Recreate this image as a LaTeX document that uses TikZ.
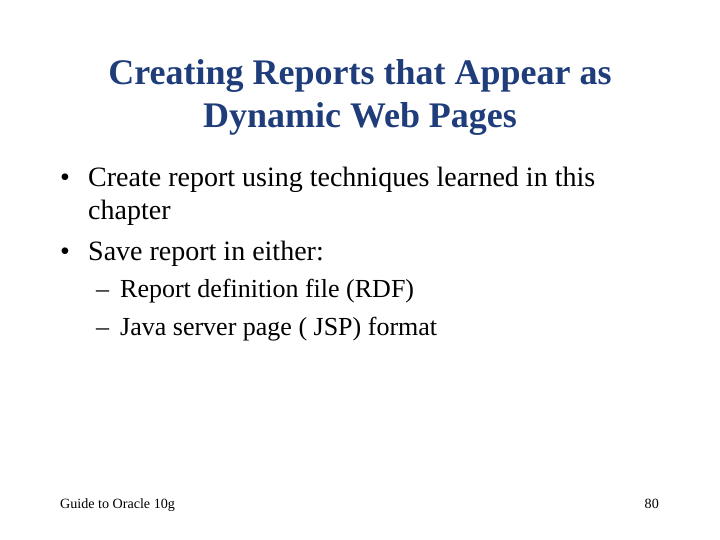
\documentclass[tikz,border=0pt]{standalone}
\usepackage{fontspec}
\setmainfont{Liberation Serif}
\definecolor{titleblue}{HTML}{1F3D7A}
\begin{document}
\begin{tikzpicture}[x=1pt,y=-1pt,
  ttl/.style={anchor=base,inner sep=0pt,text=titleblue,font=\fontsize{36}{40}\selectfont\bfseries},
  txt/.style={anchor=base west,inner sep=0pt,font=\fontsize{28}{32}\selectfont},
  sub/.style={anchor=base west,inner sep=0pt,font=\fontsize{26}{30}\selectfont},
  foot/.style={inner sep=0pt,font=\fontsize{14.1}{16}\selectfont}]
\useasboundingbox (0,0) rectangle (720,540);
\node[ttl] (title1) at (360,85) {Creating Reports that Appear as};
\node[ttl] (title2) at (360,128) {Dynamic Web Pages};
\node[txt] (b1) at (60,187) {•};
\node[txt] (t1) at (88,187) {Create report using techniques learned in this};
\node[txt] (t1b) at (88,219) {chapter};
\node[txt] (b2) at (60,260) {•};
\node[txt] (t2) at (88,260) {Save report in either:};
\node[sub] (d1) at (96,297) {–};
\node[sub] (s1) at (120,297) {Report definition file (RDF)};
\node[sub] (d2) at (96,335) {–};
\node[sub] (s2) at (120,335) {Java server page ( JSP) format};
\node[foot,anchor=base west] (f1) at (60,508) {Guide to Oracle 10g};
\node[foot,anchor=base east] (f2) at (659,508) {80};
\end{tikzpicture}
\end{document}
